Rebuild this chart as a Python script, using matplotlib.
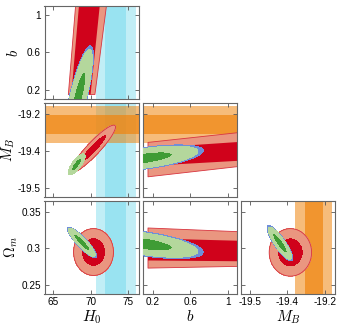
import numpy as np
import matplotlib
matplotlib.use('Agg')
import matplotlib.pyplot as plt

plt.rcParams['font.family'] = ['Liberation Sans', 'DejaVu Sans']
plt.rcParams['mathtext.fontset'] = 'cm'
plt.rcParams['axes.unicode_minus'] = False

# axis ranges and ticks
H0_LIM = [63.8, 76.4]
B_LIM = [0.095, 1.1]
MB_LIM = [-19.535, -19.158]
OM_LIM = [0.238, 0.365]

H0_TICKS = [65, 70, 75]
H0_LABELS = ['65', '70', '75']
B_TICKS = [0.2, 0.6, 1.0]
B_LABELS = ['0.2', '0.6', '1']
MB_TICKS = [-19.5, -19.35, -19.2]
MB_LABELS = ['-19.5', '-19.4', '-19.2']
OM_TICKS = [0.25, 0.30, 0.35]
OM_LABELS = ['0.25', '0.3', '0.35']

# external priors: center, 1-sigma and 2-sigma half widths
H0_PRIOR = [73.35, 1.4, 2.7]
MB_PRIOR = [-19.244, 0.037, 0.074]

# red: b-unconstrained bands, edges at the two ends of b
RED_B = [0.152, 1.12]
RED_H0B_OUT_LO = [66.92, 67.9]
RED_H0B_IN_LO = [67.32, 68.35]
RED_H0B_IN_HI = [69.89, 71.13]
RED_H0B_OUT_HI = [70.47, 72.03]

RED_BMB_B = [0.145, 1.12]
RED_BMB_OUT_LO = [-19.453, -19.411]
RED_BMB_IN_LO = [-19.409, -19.388]
RED_BMB_IN_HI = [-19.337, -19.312]
RED_BMB_OUT_HI = [-19.314, -19.274]

RED_BOM_B = [0.145, 1.12]
RED_BOM_OUT_LO = [0.2738, 0.2762]
RED_BOM_IN_LO = [0.2842, 0.2831]
RED_BOM_IN_HI = [0.3143, 0.3110]
RED_BOM_OUT_HI = [0.3284, 0.3233]

# gaussian blobs: [mean_p, sigma_p, mean_q, slope dq/dp, sigma_q|p]
RED_H0MB = [70.3, 1.2, -19.342, 0.0295, 0.015]
RED_H0OM = [70.35, 1.07, 0.295, 0.0, 0.0128]
RED_MBOM = [-19.338, 0.034, 0.2945, 0.0, 0.013]

GREEN_BH0 = [0.13, 0.2, 68.35, 2.9, 0.45]
GREEN_H0MB = [68.1, 0.45, -19.405, 0.029, 0.011]
GREEN_BMB = [0.12, 0.225, -19.38, 0.05, 0.016]
GREEN_H0OM = [68.8, 0.72, 0.308, -0.0095, 0.0035]
GREEN_BOM = [0.12, 0.225, 0.306, -0.018, 0.006]
GREEN_MBOM = [-19.38, 0.0188, 0.307, -0.4, 0.0045]

LEV_STD = [1.52, 2.49]
LEV_B = [1.3, 2.5]

RED_DARK = '#d0021b'
SALMON = '#ea9680'
RED_EDGE = '#d8343f'
GREEN_DARK = '#3f9c35'
GREEN_LIGHT = '#b4d79c'
BLUE = '#6f8fd8'
CYAN = '#4fd0e8'
ORANGE = '#f0850f'


def blob_r(P, Q, pars):
    mp, sp, mq, slope, sq = pars
    u = (P - mp) / sp
    v = (Q - mq - slope * (P - mp)) / sq
    return np.hypot(u, v)


def draw_blob(ax, pars, levels, colors, swap=False, edge=None, blue=None, z=3):
    xs = np.linspace(*ax.get_xlim(), 400)
    ys = np.linspace(*ax.get_ylim(), 400)
    X, Y = np.meshgrid(xs, ys)
    r = blob_r(Y, X, pars) if swap else blob_r(X, Y, pars)
    if blue:
        ax.contourf(X, Y, r, levels=[0, levels[1] * blue], colors=[BLUE], zorder=z)
    ax.contourf(X, Y, r, levels=[0, levels[0], levels[1]], colors=colors, zorder=z + 0.1)
    if edge:
        ax.contour(X, Y, r, levels=[levels[1]], colors=edge, linewidths=0.6, zorder=z + 0.2)


def red_band(ax, b, out_lo, in_lo, in_hi, out_hi, vertical=False):
    fill = ax.fill_betweenx if vertical else ax.fill_between
    fill(b, out_lo, out_hi, color=SALMON, ec=RED_EDGE, lw=0.6, zorder=2)
    fill(b, in_lo, in_hi, color=RED_DARK, lw=0, zorder=2.1)


def prior_span(ax, prior, color, a_out, a_in, vertical=True):
    span = ax.axvspan if vertical else ax.axhspan
    c, s1, s2 = prior
    span(c - s2, c + s2, color=color, alpha=a_out, lw=0, zorder=1)
    span(c - s1, c + s1, color=color, alpha=a_in, lw=0, zorder=1)


fig = plt.figure(figsize=(3.43, 3.27), dpi=100)
W, H = 343.0, 327.0
lefts = [44.5, 142.8, 241.1]
tops = [6.0, 103.3, 200.6]
pw, ph = 94.3, 93.3

axes = {}
for (r, c) in [(0, 0), (1, 0), (1, 1), (2, 0), (2, 1), (2, 2)]:
    ax = fig.add_axes([lefts[c] / W, (H - tops[r] - ph) / H, pw / W, ph / H])
    axes[(r, c)] = ax

xinfo = [(H0_LIM, H0_TICKS, H0_LABELS, r'$H_0$'),
         (B_LIM, B_TICKS, B_LABELS, r'$b$'),
         (MB_LIM, MB_TICKS, MB_LABELS, r'$M_B$')]
yinfo = [(B_LIM, B_TICKS, B_LABELS, r'$b$', -0.25),
         (MB_LIM, MB_TICKS, MB_LABELS, r'$M_B$', -0.29),
         (OM_LIM, OM_TICKS, OM_LABELS, r'$\Omega_m$', -0.26)]

for (r, c), ax in axes.items():
    xl, xt, xtl, xname = xinfo[c]
    yl, yt, ytl, yname, ypos = yinfo[r]
    ax.set_xlim(xl)
    ax.set_ylim(yl)
    ax.set_xticks(xt)
    ax.set_yticks(yt)
    if r == 2:
        ax.set_xticklabels(xtl)
        ax.set_xlabel(xname, fontsize=11, labelpad=1)
    else:
        ax.set_xticklabels([])
    if c == 0:
        ax.set_yticklabels(ytl)
        ax.set_ylabel(yname, fontsize=10.5)
        ax.yaxis.set_label_coords(ypos, 0.5)
    else:
        ax.set_yticklabels([])
    ax.tick_params(direction='in', top=True, right=True, length=3, width=0.6,
                   color='#555555', labelsize=7.2, pad=2.5)
    for sp in ax.spines.values():
        sp.set_color('#666666')
        sp.set_linewidth(0.8)

# priors
for key in [(0, 0), (1, 0), (2, 0)]:
    prior_span(axes[key], H0_PRIOR, CYAN, 0.35, 0.35, vertical=True)
for key in [(1, 0), (1, 1)]:
    prior_span(axes[key], MB_PRIOR, ORANGE, 0.55, 0.7, vertical=False)
prior_span(axes[(2, 2)], MB_PRIOR, ORANGE, 0.55, 0.7, vertical=True)

# red contours
red_band(axes[(0, 0)], RED_B, RED_H0B_OUT_LO, RED_H0B_IN_LO, RED_H0B_IN_HI,
         RED_H0B_OUT_HI, vertical=True)
red_band(axes[(1, 1)], RED_BMB_B, RED_BMB_OUT_LO, RED_BMB_IN_LO, RED_BMB_IN_HI,
         RED_BMB_OUT_HI)
red_band(axes[(2, 1)], RED_BOM_B, RED_BOM_OUT_LO, RED_BOM_IN_LO, RED_BOM_IN_HI,
         RED_BOM_OUT_HI)
draw_blob(axes[(1, 0)], RED_H0MB, LEV_STD, [RED_DARK, SALMON], edge=RED_EDGE, z=2)
draw_blob(axes[(2, 0)], RED_H0OM, LEV_STD, [RED_DARK, SALMON], edge=RED_EDGE, z=2)
draw_blob(axes[(2, 2)], RED_MBOM, LEV_STD, [RED_DARK, SALMON], edge=RED_EDGE, z=2)

# green contours (blue rim underneath)
draw_blob(axes[(0, 0)], GREEN_BH0, LEV_B, [GREEN_DARK, GREEN_LIGHT], swap=True, blue=1.08, z=4)
draw_blob(axes[(1, 0)], GREEN_H0MB, LEV_STD, [GREEN_DARK, GREEN_LIGHT], z=4)
draw_blob(axes[(1, 1)], GREEN_BMB, LEV_B, [GREEN_DARK, GREEN_LIGHT], blue=1.1, z=4)
draw_blob(axes[(2, 0)], GREEN_H0OM, LEV_STD, [GREEN_DARK, GREEN_LIGHT], blue=1.1, z=4)
draw_blob(axes[(2, 1)], GREEN_BOM, LEV_B, [GREEN_DARK, GREEN_LIGHT], blue=1.1, z=4)
draw_blob(axes[(2, 2)], GREEN_MBOM, LEV_STD, [GREEN_DARK, GREEN_LIGHT], blue=1.1, z=4)

fig.savefig('out.png', dpi=100)
